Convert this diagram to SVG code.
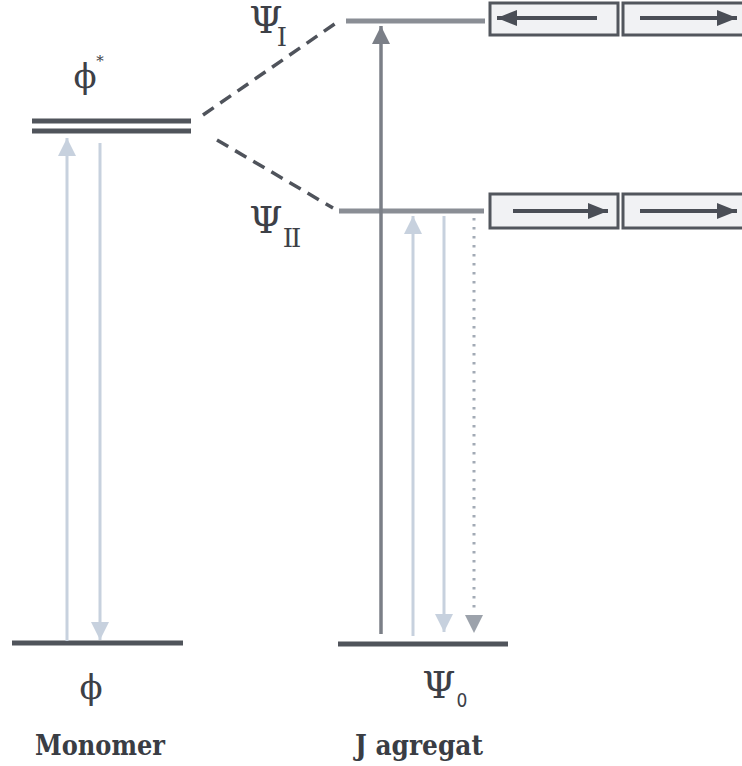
<svg xmlns="http://www.w3.org/2000/svg" width="742" height="766" viewBox="0 0 742 766">
<style>
.lvl-dark{stroke:#50545b;stroke-width:5;}
.lvl-mid{stroke:#8a8e95;stroke-width:5;}
.dash{stroke:#4f535b;stroke-width:3.5;stroke-dasharray:13 8;fill:none;}
.light{stroke:#c7d1de;stroke-width:3;fill:none;}
.darkarr{stroke:#7b7f87;stroke-width:3.5;fill:none;}
.dotted{stroke:#a2aab5;stroke-width:3;stroke-dasharray:2.5 6.5;fill:none;}
.box{fill:#f1f2f4;stroke:#52565d;stroke-width:3;}
.barr{stroke:#4a4e56;stroke-width:4;fill:none;}
.sym{font-family:'DejaVu Serif',serif;fill:#3d4047;text-anchor:middle;}
.cap{font-family:'DejaVu Serif',serif;font-weight:bold;font-size:27px;fill:#3a3d44;text-anchor:middle;}
</style>
<defs>
<marker id="mLight" markerUnits="userSpaceOnUse" markerWidth="18" markerHeight="18" refX="18" refY="9" orient="auto"><path d="M0,0 L18,9 L0,18 z" fill="#c7d1de"/></marker>
<marker id="mDark" markerUnits="userSpaceOnUse" markerWidth="18" markerHeight="18" refX="18" refY="9" orient="auto"><path d="M0,0 L18,9 L0,18 z" fill="#7b7f87"/></marker>
<marker id="mBox" markerUnits="userSpaceOnUse" markerWidth="20" markerHeight="16" refX="20" refY="8" orient="auto"><path d="M0,0 L20,8 L0,16 z" fill="#4a4e56"/></marker>
</defs>

<g id="monomer-excited">
<line class="lvl-dark" x1="32" y1="121" x2="191" y2="121"/>
<line class="lvl-dark" x1="32" y1="131" x2="191" y2="131"/>
<text class="sym" x="85" y="88" font-size="34">ϕ</text>
<text class="sym" x="100" y="66" font-size="15">*</text>
</g>

<g id="monomer-ground">
<line class="lvl-dark" x1="12" y1="643" x2="183" y2="643"/>
<text class="sym" x="91" y="699" font-size="34">ϕ</text>
<text class="cap" x="100" y="755" textLength="130" lengthAdjust="spacingAndGlyphs">Monomer</text>
</g>

<g id="psi-I">
<line class="lvl-mid" x1="346" y1="21" x2="485" y2="21"/>
<text class="sym" x="266" y="33" font-size="38">Ψ</text>
<text class="sym" x="282" y="46" font-size="26">I</text>
</g>

<g id="psi-II">
<line class="lvl-mid" x1="339" y1="211" x2="484" y2="211"/>
<text class="sym" x="266" y="233" font-size="38">Ψ</text>
<text class="sym" x="291" y="247" font-size="26" letter-spacing="-2">II</text>
</g>

<g id="psi-0">
<line class="lvl-dark" x1="338" y1="644" x2="508" y2="644"/>
<text class="sym" x="439" y="698" font-size="38">Ψ</text>
<text x="462" y="707" font-family="'DejaVu Sans Condensed','DejaVu Sans',sans-serif" font-size="19" fill="#3d4047" text-anchor="middle">0</text>
<text class="cap" x="419" y="755" textLength="128" lengthAdjust="spacingAndGlyphs">J agregat</text>
</g>

<g id="dipoles-I">
<rect class="box" x="490" y="3" width="128" height="32"/>
<rect class="box" x="623" y="3" width="125" height="32"/>
<line class="barr" x1="597" y1="18" x2="497" y2="18" marker-end="url(#mBox)"/>
<line class="barr" x1="640" y1="18" x2="737" y2="18" marker-end="url(#mBox)"/>
</g>

<g id="dipoles-II">
<rect class="box" x="490" y="194" width="128" height="34"/>
<rect class="box" x="623" y="194" width="125" height="34"/>
<line class="barr" x1="513" y1="211" x2="608" y2="211" marker-end="url(#mBox)"/>
<line class="barr" x1="640" y1="211" x2="737" y2="211" marker-end="url(#mBox)"/>
</g>

<g id="connectors">
<line class="dash" x1="203" y1="115" x2="336" y2="23"/>
<line class="dash" x1="217" y1="140" x2="333" y2="208"/>
<line class="light" x1="67" y1="641" x2="67" y2="138" marker-end="url(#mLight)"/>
<line class="light" x1="100" y1="143" x2="100" y2="640" marker-end="url(#mLight)"/>
<line class="darkarr" x1="381" y1="634" x2="381" y2="26" marker-end="url(#mDark)"/>
<line class="light" x1="413" y1="636" x2="413" y2="216" marker-end="url(#mLight)"/>
<line class="light" x1="444" y1="216" x2="444" y2="632" marker-end="url(#mLight)"/>
<line class="dotted" x1="474" y1="218" x2="474" y2="614"/>
<path d="M465,615 L474,633 L483,615 z" fill="#9ca2ab"/>
</g>
</svg>
